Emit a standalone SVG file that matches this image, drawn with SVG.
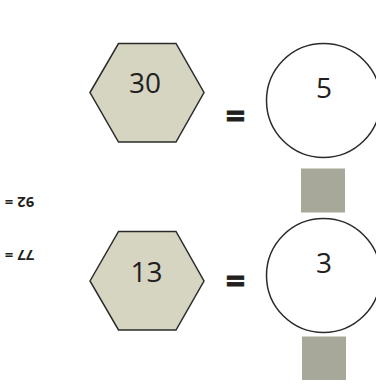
<svg xmlns="http://www.w3.org/2000/svg" width="376" height="387" viewBox="0 0 376 387">
<style>
.hex{fill:#d6d5c2;stroke:#2b2b2b;stroke-width:1.5;stroke-linejoin:miter}
.circ{fill:#ffffff;stroke:#2b2b2b;stroke-width:1.5}
.sq{fill:#a7a89a}
.num{font-family:"Open Sans","Noto Sans",sans-serif;font-size:28px;fill:#231f20;text-anchor:middle}
.eq{font-family:"Open Sans","Noto Sans",sans-serif;font-size:34px;font-weight:bold;fill:#231f20;stroke:#231f20;stroke-width:0.8;text-anchor:middle}
.side{font-family:"Open Sans","Noto Sans",sans-serif;font-size:14.8px;font-weight:bold;fill:#231f20;text-anchor:middle}
</style>
<rect width="376" height="387" fill="#ffffff"/>
<g id="side-labels">
<text class="side" x="19.5" y="207.3" transform="rotate(180 19.5 202)">92 =</text>
<text class="side" x="19.5" y="260.3" transform="rotate(180 19.5 255)">77 =</text>
</g>
<g id="hex1">
<polygon class="hex" points="90,92.5 118.5,43.5 176,43.5 204,92.5 176,142 118.5,142"/>
<text class="num" x="145" y="93.3">30</text>
</g>
<g id="eq1"><text class="eq" x="235.5" y="128">=</text></g>
<g id="circle1">
<circle class="circ" cx="323.5" cy="100.5" r="57"/>
<text class="num" x="324" y="98.3">5</text>
</g>
<g id="square1"><rect class="sq" x="301" y="168.5" width="44" height="44"/></g>
<g id="hex2">
<polygon class="hex" points="90,281 118.5,231.5 176,231.5 204,281 176,330 118.5,330"/>
<text class="num" x="146.5" y="281.7">13</text>
</g>
<g id="eq2"><text class="eq" x="235.5" y="293">=</text></g>
<g id="circle2">
<circle class="circ" cx="323.5" cy="275.5" r="57"/>
<text class="num" x="324" y="272.7">3</text>
</g>
<g id="square2"><rect class="sq" x="302" y="336.5" width="44" height="43.5"/></g>
<g id="connectors"></g>
</svg>
